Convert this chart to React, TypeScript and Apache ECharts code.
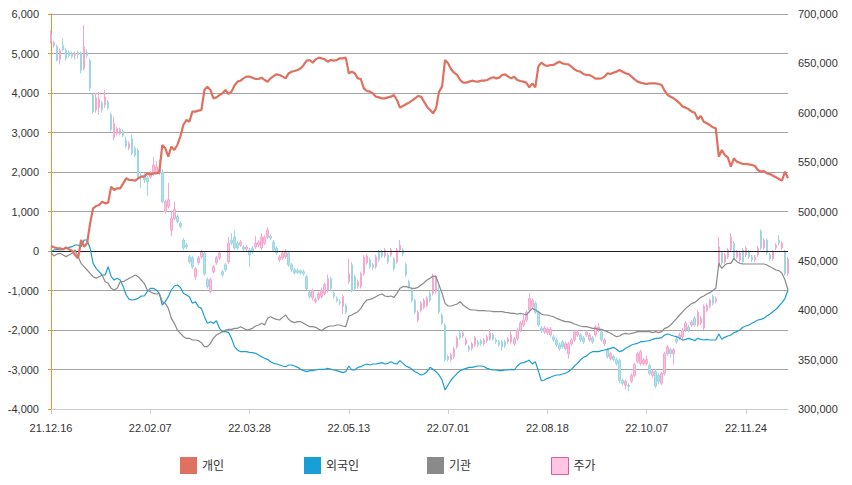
import React, { useEffect, useRef } from "react";
import * as echarts from "echarts";

// Korean trading days, one entry per month: [YY.MM, days]
const tradingMonths: [string, string][] = [
  ["21.12", "16 17 20 21 22 23 24 27 28 29 30"],
  ["22.01", "03 04 05 06 07 10 11 12 13 14 17 18 19 20 21 24 25 26 27 28"],
  ["22.02", "03 04 07 08 09 10 11 14 15 16 17 18 21 22 23 24 25 28"],
  ["22.03", "02 03 04 07 08 10 11 14 15 16 17 18 21 22 23 24 25 28 29 30 31"],
  ["22.04", "01 04 05 06 07 08 11 12 13 14 15 18 19 20 21 22 25 26 27 28 29"],
  ["22.05", "02 03 04 06 09 10 11 12 13 16 17 18 19 20 23 24 25 26 27 30 31"],
  ["22.06", "02 03 07 08 09 10 13 14 15 16 17 20 21 22 23 24 27 28 29 30"],
  ["22.07", "01 04 05 06 07 08 11 12 13 14 15 18 19 20 21 22 25 26 27 28 29"],
  ["22.08", "01 02 03 04 05 08 09 10 11 12 16 17 18 19 22 23 24 25 26 29 30 31"],
  ["22.09", "01 02 05 06 07 08 13 14 15 16 19 20 21 22 23 26 27 28 29 30"],
  ["22.10", "04 05 06 07 11 12 13 14 17 18 19 20 21 24 25 26 27 28 31"],
  ["22.11", "01 02 03 04 07 08 09 10 11 14 15 16 17 18 21 22 23 24 25 28 29 30"],
  ["22.12", "01 02 05 06 07 08 09 12 13 14"],
];

const seriesNames = ["개인", "외국인", "기관", "주가"];

// cumulative net buying (left axis)
const individual = [
  127, 93, 76, 68, 42, 93, 42, 8, -101, -186,
  278, 110, 194, 700, 1080, 1139, 1165, 1249, 1207, 1224,
  1629, 1544, 1587, 1587, 1713, 1840, 1797, 1797, 1781, 1840,
  1882, 1882, 1966, 1941, 1966, 1966, 1983, 2684, 2599, 2388,
  2641, 2557, 2684, 2895, 3190, 3317, 3274, 3528, 3528, 3553,
  3570, 4076, 4160, 4076, 3865, 3890, 3949, 3992, 4076, 3975,
  4034, 4190, 4287, 4312, 4371, 4414, 4414, 4388, 4354, 4354,
  4388, 4329, 4287, 4371, 4430, 4473, 4456, 4414, 4371, 4498,
  4540, 4557, 4582, 4625, 4709, 4819, 4836, 4768, 4852, 4895,
  4878, 4852, 4793, 4836, 4819, 4836, 4878, 4878, 4895, 4498,
  4540, 4498, 4371, 4354, 4118, 4051, 4034, 3992, 3907, 3890,
  3865, 3865, 3890, 3907, 3949, 3823, 3629, 3671, 3713, 3755,
  3806, 3865, 3924, 3907, 3781, 3654, 3570, 3485, 3612, 4034,
  4160, 4836, 4751, 4599, 4515, 4456, 4329, 4262, 4262, 4287,
  4312, 4295, 4287, 4312, 4312, 4329, 4371, 4397, 4371, 4388,
  4456, 4473, 4414, 4371, 4414, 4329, 4304, 4287, 4262, 4143,
  4245, 4143, 4667, 4768, 4709, 4684, 4709, 4709, 4751, 4793,
  4751, 4734, 4726, 4667, 4599, 4557, 4540, 4481, 4456, 4456,
  4414, 4363, 4363, 4371, 4414, 4498, 4481, 4515, 4540, 4582,
  4540, 4498, 4481, 4414, 4346, 4287, 4262, 4245, 4228, 4245,
  4245, 4245, 4228, 4203, 4059, 3949, 3907, 3865, 3806, 3738,
  3654, 3629, 3587, 3528, 3502, 3333, 3418, 3274, 3232, 3190,
  3131, 3106, 2388, 2557, 2430, 2371, 2135, 2346, 2262, 2236,
  2203, 2203, 2194, 2177, 2152, 2051, 2008, 2025, 1966, 1949,
  1907, 1865, 1823, 1781, 2008, 1840,
];

const foreign = [
  -17, 25, 42, 25, 42, 68, 93, 110, 152, 152,
  110, 278, 278, 68, -312, -439, -523, -608, -608, -397,
  -650, -734, -692, -734, -903, -1114, -1224, -1241, -1224, -1198,
  -1139, -1139, -1030, -945, -945, -987, -1072, -1367, -1283, -1156,
  -987, -886, -861, -920, -1072, -1114, -1156, -1325, -1283, -1409,
  -1452, -1662, -1831, -1789, -1831, -1764, -1958, -2042, -2042, -2060,
  -2211, -2422, -2506, -2549, -2549, -2549, -2565, -2574, -2591, -2633,
  -2675, -2717, -2743, -2802, -2844, -2861, -2886, -2911, -2928, -2886,
  -2886, -2911, -2945, -2996, -3030, -3055, -3030, -3030, -3013, -2996,
  -2996, -2996, -2971, -2987, -3013, -3030, -3055, -3080, -3055, -2911,
  -3013, -3013, -2945, -2928, -2886, -2861, -2886, -2861, -2861, -2844,
  -2827, -2861, -2844, -2802, -2844, -2861, -2776, -2844, -2911, -2945,
  -2996, -3055, -3097, -3139, -3114, -3055, -2945, -2996, -3055, -3139,
  -3266, -3519, -3392, -3266, -3181, -3097, -3030, -2996, -2971, -2945,
  -2945, -2928, -2911, -2911, -2928, -2971, -2996, -3013, -3013, -3030,
  -3030, -3013, -3013, -2996, -3013, -2911, -2844, -2827, -2802, -2760,
  -2861, -2802, -3030, -3283, -3266, -3224, -3198, -3165, -3139, -3139,
  -3114, -3097, -3055, -2996, -2911, -2844, -2760, -2692, -2658, -2591,
  -2549, -2549, -2549, -2523, -2506, -2489, -2464, -2439, -2489, -2549,
  -2523, -2464, -2422, -2380, -2355, -2338, -2295, -2295, -2279, -2270,
  -2236, -2211, -2211, -2194, -2127, -2101, -2127, -2152, -2169, -2211,
  -2253, -2236, -2211, -2236, -2270, -2211, -2236, -2253, -2236, -2253,
  -2253, -2253, -2101, -2236, -2186, -2152, -2127, -2068, -2042, -2000,
  -1932, -1899, -1873, -1831, -1789, -1747, -1730, -1705, -1646, -1595,
  -1536, -1477, -1392, -1308, -1198, -987,
];

const institution = [
  -42, -127, -76, -59, -101, -143, -101, -59, 25, -143,
  -312, -397, -481, -565, -650, -692, -650, -608, -776, -819,
  -945, -987, -945, -776, -776, -734, -692, -650, -608, -650,
  -734, -819, -987, -1030, -1072, -1089, -1072, -1283, -1325, -1452,
  -1705, -1831, -2000, -2084, -2169, -2211, -2211, -2253, -2253, -2270,
  -2321, -2422, -2422, -2338, -2211, -2127, -2084, -2042, -2000, -1983,
  -1983, -1958, -1958, -1916, -1958, -2000, -1983, -1958, -1899, -1873,
  -1831, -1873, -1705, -1662, -1705, -1730, -1747, -1680, -1620, -1730,
  -1789, -1814, -1789, -1789, -1831, -1873, -1916, -1916, -1932, -1983,
  -2017, -1958, -1916, -1899, -1899, -1873, -1873, -1899, -1916, -1646,
  -1620, -1578, -1536, -1452, -1325, -1241, -1224, -1198, -1156, -1114,
  -1089, -1139, -1156, -1139, -1173, -1072, -945, -903, -903, -920,
  -945, -945, -920, -861, -802, -734, -692, -633, -650, -861,
  -1072, -1325, -1392, -1392, -1367, -1342, -1283, -1367, -1426, -1477,
  -1494, -1494, -1511, -1511, -1511, -1519, -1519, -1536, -1536, -1536,
  -1536, -1553, -1561, -1578, -1578, -1595, -1578, -1595, -1620, -1536,
  -1452, -1494, -1536, -1595, -1620, -1620, -1646, -1662, -1705, -1730,
  -1764, -1789, -1789, -1814, -1848, -1873, -1899, -1916, -1916, -1932,
  -1958, -1958, -1983, -1983, -2017, -2042, -2084, -2127, -2169, -2152,
  -2101, -2084, -2101, -2084, -2068, -2042, -2042, -2042, -2042, -2042,
  -2068, -2042, -2068, -2042, -1958, -1932, -1873, -1789, -1705, -1620,
  -1536, -1452, -1392, -1325, -1308, -1241, -1173, -1139, -1089, -1055,
  -1004, -945, -312, -439, -354, -312, -312, -186, -270, -312,
  -329, -329, -329, -329, -329, -329, -329, -329, -354, -397,
  -439, -481, -498, -565, -734, -987,
];

// stock price, thousands of won (right axis)
const priceOpen = [
  672, 668, 667, 654, 668, 663, 661, 660, 658, 661,
  660, 645, 661, 653, 618, 603, 605, 610, 608, 611,
  598, 575, 579, 579, 581, 572, 564, 574, 564, 562,
  537, 537, 534, 535, 539, 540, 539, 540, 500, 505,
  481, 493, 495, 488, 471, 466, 454, 453, 434, 448,
  454, 458, 431, 419, 439, 448, 453, 439, 446, 449,
  471, 474, 468, 466, 464, 462, 461, 463, 464, 466,
  463, 468, 474, 475, 469, 463, 451, 453, 454, 458,
  446, 441, 440, 440, 439, 434, 418, 413, 409, 412,
  414, 417, 420, 432, 417, 412, 408, 404, 405, 429,
  446, 434, 424, 424, 437, 448, 451, 446, 444, 459,
  459, 455, 456, 456, 452, 449, 461, 461, 446, 429,
  421, 410, 390, 400, 403, 405, 417, 417, 419, 420,
  395, 385, 353, 350, 353, 363, 377, 374, 366, 363,
  361, 365, 368, 369, 366, 369, 371, 375, 370, 368,
  368, 368, 368, 368, 366, 371, 380, 385, 390, 400,
  404, 407, 398, 382, 378, 377, 375, 373, 370, 365,
  368, 361, 356, 366, 370, 375, 375, 372, 375, 370,
  372, 375, 380, 378, 366, 360, 351, 353, 350, 349,
  329, 324, 324, 328, 334, 348, 346, 346, 346, 344,
  334, 338, 334, 326, 336, 356, 360, 356, 371, 372,
  373, 380, 383, 385, 392, 385, 387, 382, 400, 404,
  414, 409, 444, 458, 449, 454, 461, 468, 454, 451,
  461, 456, 459, 454, 451, 456, 480, 463, 471, 456,
  452, 463, 471, 463, 459, 437,
];

const priceClose = [
  680, 671, 653, 663, 664, 655, 658, 657, 660, 659,
  643, 667, 658, 625, 601, 615, 614, 603, 616, 605,
  583, 589, 584, 583, 577, 566, 569, 559, 557, 535,
  534, 532, 530, 539, 547, 545, 543, 510, 510, 512,
  493, 502, 490, 485, 463, 464, 449, 444, 442, 453,
  459, 437, 424, 431, 444, 453, 458, 436, 441, 468,
  468, 463, 463, 469, 462, 464, 456, 459, 468, 469,
  474, 474, 481, 473, 461, 458, 454, 458, 459, 446,
  441, 438, 438, 438, 437, 422, 414, 420, 411, 417,
  420, 426, 432, 422, 414, 410, 407, 414, 398, 437,
  420, 422, 429, 437, 454, 455, 444, 443, 454, 451,
  455, 461, 449, 461, 442, 461, 466, 457, 436, 424,
  410, 398, 398, 407, 410, 412, 410, 434, 434, 398,
  387, 350, 350, 355, 361, 372, 372, 377, 370, 360,
  366, 372, 365, 366, 370, 373, 377, 371, 368, 365,
  363, 364, 371, 375, 371, 380, 387, 390, 398, 412,
  410, 398, 385, 379, 382, 381, 381, 370, 365, 361,
  363, 366, 366, 370, 378, 378, 370, 368, 378, 375,
  368, 383, 383, 370, 370, 353, 356, 350, 346, 329,
  326, 328, 323, 334, 345, 356, 358, 350, 350, 336,
  338, 323, 328, 336, 356, 363, 356, 360, 368, 375,
  380, 387, 380, 388, 385, 398, 392, 404, 405, 410,
  407, 412, 464, 448, 456, 461, 474, 453, 459, 458,
  449, 463, 454, 451, 454, 463, 463, 471, 458, 452,
  459, 466, 468, 468, 437, 452,
];

const priceLow = [
  670, 666, 652, 649, 662, 653, 656, 655, 654, 655,
  640, 643, 656, 622, 599, 600, 598, 600, 605, 603,
  581, 572, 577, 577, 575, 564, 562, 557, 555, 532,
  524, 529, 516, 533, 536, 538, 537, 508, 498, 503,
  475, 491, 488, 483, 461, 462, 447, 442, 431, 446,
  452, 435, 422, 417, 437, 446, 451, 434, 439, 447,
  466, 461, 461, 464, 460, 460, 444, 457, 462, 464,
  461, 466, 472, 471, 459, 456, 449, 451, 452, 444,
  439, 436, 437, 436, 435, 420, 412, 410, 407, 410,
  412, 415, 418, 420, 412, 408, 405, 396, 396, 427,
  418, 420, 422, 422, 435, 446, 442, 441, 442, 449,
  453, 453, 447, 454, 440, 447, 459, 455, 434, 422,
  408, 396, 388, 398, 401, 403, 408, 415, 417, 396,
  385, 348, 348, 348, 351, 361, 370, 372, 364, 358,
  359, 363, 363, 364, 364, 367, 369, 369, 366, 363,
  359, 362, 366, 366, 364, 369, 378, 383, 388, 398,
  402, 396, 383, 377, 376, 375, 373, 368, 363, 359,
  361, 359, 351, 364, 368, 373, 368, 366, 373, 368,
  366, 373, 378, 368, 364, 351, 349, 348, 344, 326,
  324, 320, 318, 326, 332, 346, 344, 344, 344, 334,
  332, 321, 325, 324, 334, 354, 352, 345, 366, 370,
  371, 378, 378, 383, 383, 383, 385, 380, 398, 402,
  405, 407, 442, 446, 447, 452, 459, 451, 452, 449,
  447, 454, 452, 449, 449, 454, 461, 461, 456, 450,
  450, 461, 466, 461, 435, 435,
];

const priceHigh = [
  683, 673, 669, 665, 675, 666, 663, 662, 662, 663,
  662, 689, 664, 655, 619, 620, 621, 612, 623, 613,
  600, 596, 586, 585, 583, 576, 571, 578, 566, 564,
  540, 539, 536, 541, 555, 551, 552, 543, 512, 529,
  500, 510, 497, 490, 473, 468, 456, 455, 444, 455,
  461, 460, 433, 433, 446, 455, 460, 441, 448, 474,
  478, 481, 470, 471, 466, 466, 463, 465, 475, 471,
  478, 476, 484, 477, 471, 465, 456, 460, 462, 460,
  448, 443, 442, 441, 441, 436, 420, 422, 413, 419,
  423, 428, 436, 434, 419, 414, 411, 416, 407, 452,
  449, 436, 431, 439, 456, 457, 453, 448, 456, 461,
  461, 463, 458, 463, 454, 463, 471, 463, 448, 431,
  423, 412, 400, 409, 412, 414, 419, 437, 436, 425,
  397, 387, 355, 357, 363, 374, 379, 380, 372, 365,
  368, 374, 370, 371, 372, 375, 381, 377, 372, 370,
  370, 370, 373, 380, 373, 382, 389, 395, 400, 417,
  412, 409, 400, 384, 384, 383, 383, 375, 372, 367,
  370, 368, 368, 372, 380, 380, 377, 374, 380, 377,
  374, 385, 387, 380, 372, 362, 358, 355, 352, 351,
  331, 330, 326, 336, 347, 358, 360, 352, 354, 346,
  340, 340, 336, 338, 358, 365, 362, 362, 373, 377,
  382, 389, 385, 390, 394, 400, 394, 406, 407, 412,
  416, 414, 474, 460, 458, 463, 478, 470, 461, 460,
  463, 465, 461, 456, 456, 465, 482, 473, 473, 458,
  461, 468, 476, 470, 461, 454,
];

const COLORS = {
  individual: "#e0705f",
  foreign: "#1a9ed6",
  institution: "#8a8a8a",
  up: "#f9c2de",
  upBorder: "#f4a8cf",
  down: "#b2e2ec",
  downBorder: "#9bd7e4",
};

const FONT = "'Liberation Sans', 'Noto Sans CJK KR', sans-serif";

export default function App() {
  const ref = useRef<HTMLDivElement>(null);

  useEffect(() => {
    if (!ref.current) return;
    const chart = echarts.init(ref.current, undefined, { renderer: "svg" });
    const categories = tradingMonths.flatMap(([ym, days]) =>
      days.split(" ").map((d) => `${ym}.${d}`)
    );
    const candles = priceOpen.map((o, i) => [o, priceClose[i], priceLow[i], priceHigh[i]]);
    const fmt = (v: number) => Math.round(v).toLocaleString("en-US");

    const legendAt = (name: string, left: number, itemStyle: any) => ({
      data: [{ name, icon: "rect", itemStyle }],
      left,
      top: 457,
      padding: 0,
      itemWidth: 17,
      itemHeight: 17,
      itemGap: 5,
      textStyle: { fontSize: 12, color: "#333", fontFamily: FONT },
      selectedMode: false,
    });

    chart.setOption({
      animation: false,
      backgroundColor: "#fff",
      textStyle: { fontFamily: FONT },
      grid: { left: 51, right: 64, top: 14, bottom: 76 },
      legend: [
        legendAt(seriesNames[0], 180, { color: COLORS.individual, borderWidth: 0 }),
        legendAt(seriesNames[1], 304, { color: COLORS.foreign, borderWidth: 0 }),
        legendAt(seriesNames[2], 427, { color: COLORS.institution, borderWidth: 0 }),
        legendAt(seriesNames[3], 551, { color: "#ffc6e4", borderColor: "#dd5aa0", borderWidth: 1 }),
      ],
      xAxis: {
        type: "category",
        data: categories,
        boundaryGap: false,
        axisLine: { onZero: false, lineStyle: { color: "#cccccc" } },
        axisTick: { interval: 32, length: 5, lineStyle: { color: "#cccccc" } },
        axisLabel: { interval: 32, margin: 13, fontSize: 11, color: "#333", fontFamily: FONT },
        splitLine: { show: false },
      },
      yAxis: [
        {
          type: "value",
          min: -4000,
          max: 6000,
          interval: 1000,
          axisLine: { show: true, lineStyle: { color: "#f0912f" } },
          axisTick: { show: true, length: 3, lineStyle: { color: "#f0912f" } },
          axisLabel: { fontSize: 11, color: "#333", margin: 12, fontFamily: FONT, formatter: fmt },
          splitLine: { show: true, lineStyle: { color: "#a3a3a3", width: 1 } },
        },
        {
          type: "value",
          min: 300,
          max: 700,
          interval: 50,
          position: "right",
          axisLine: { show: false },
          axisTick: { show: false },
          axisLabel: {
            fontSize: 11,
            color: "#333",
            margin: 10,
            fontFamily: FONT,
            formatter: (v: number) => fmt(v * 1000),
          },
          splitLine: { show: false },
        },
      ],
      series: [
        {
          name: seriesNames[3],
          type: "candlestick",
          yAxisIndex: 1,
          data: candles,
          barWidth: 2,
          itemStyle: {
            color: COLORS.up,
            color0: COLORS.down,
            borderColor: COLORS.upBorder,
            borderColor0: COLORS.downBorder,
            borderWidth: 1,
          },
          z: 1,
        },
        {
          name: seriesNames[0],
          type: "line",
          yAxisIndex: 0,
          data: individual,
          showSymbol: false,
          lineStyle: { color: COLORS.individual, width: 2.2 },
          itemStyle: { color: COLORS.individual },
          z: 4,
          markLine: {
            silent: true,
            symbol: "none",
            label: { show: false },
            lineStyle: { color: "#222", width: 1, type: "solid" },
            data: [{ yAxis: 0 }],
            z: 2,
          },
        },
        {
          name: seriesNames[1],
          type: "line",
          yAxisIndex: 0,
          data: foreign,
          showSymbol: false,
          lineStyle: { color: COLORS.foreign, width: 1.2 },
          itemStyle: { color: COLORS.foreign },
          z: 3,
        },
        {
          name: seriesNames[2],
          type: "line",
          yAxisIndex: 0,
          data: institution,
          showSymbol: false,
          lineStyle: { color: COLORS.institution, width: 1.2 },
          itemStyle: { color: COLORS.institution },
          z: 3,
        },
      ],
    });
    return () => chart.dispose();
  }, []);

  return (
    <div
      ref={ref}
      style={{ position: "fixed", left: 0, top: 0, width: 852, height: 485, background: "#fff" }}
    />
  );
}
